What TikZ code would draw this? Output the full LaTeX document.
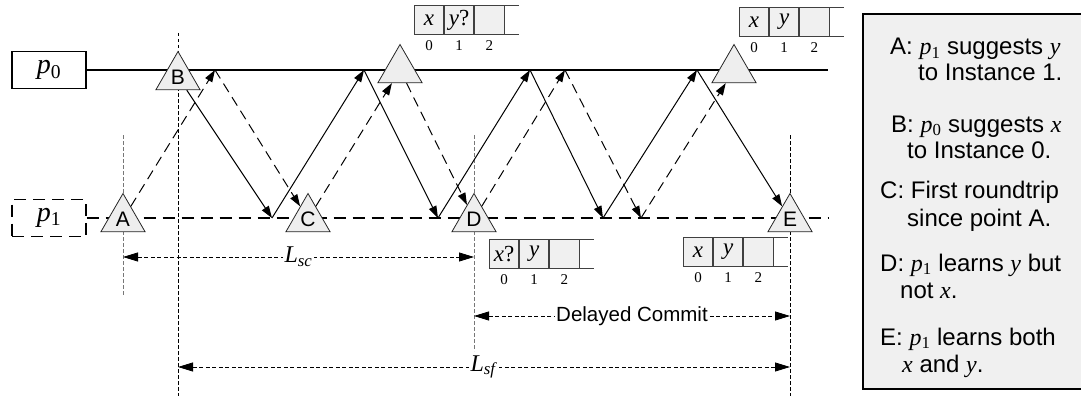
\documentclass[tikz,border=0pt]{standalone}
\usepackage{fontspec}
\setmainfont{Liberation Sans}
\newfontfamily\tms{Liberation Serif}
\usetikzlibrary{arrows.meta,shapes.geometric}

\definecolor{panelfill}{HTML}{F0F0F0}
\definecolor{trifill}{HTML}{EEEEEE}
\definecolor{guidegray}{HTML}{777777}

% italic variable and process name p_i
\newcommand\vr[1]{{\tms\itshape #1}}
\newcommand\pr[1]{{\tms\textit{p}\textsubscript{#1}}}

\tikzset{
  pbox/.style={draw, line width=1.1pt, minimum width=74pt, minimum height=37pt,
    inner sep=0pt, font=\fontsize{28}{28}\selectfont},
  procline/.style={line width=1.1pt},
  procdash/.style={line width=1.1pt, dash pattern=on 12pt off 7pt},
  guide/.style={line width=0.8pt, dash pattern=on 3.5pt off 2.5pt},
  tri/.style={shape=regular polygon, regular polygon sides=3, minimum size=51pt,
    inner sep=0pt, fill=trifill, draw=black!85, line width=0.8pt,
    font=\fontsize{21}{21}\selectfont},
  msg/.style={line width=1pt, -{Triangle[length=12pt,width=8pt]}},
  msgdash/.style={msg, dash pattern=on 10pt off 6pt},
  dim/.style={line width=0.8pt, dash pattern=on 4pt off 2.5pt,
    {Triangle[length=15pt,width=9pt]}-{Triangle[length=15pt,width=9pt]}},
  dimlabel/.style={fill=white, inner sep=1.5pt},
  cell/.style={draw=black!75, fill=panelfill, line width=0.8pt, minimum width=29.3pt,
    minimum height=29pt, inner sep=0pt, font=\tms\fontsize{23}{23}\selectfont},
  slotedge/.style={draw=black!75, line width=0.8pt},
  idx/.style={inner sep=0pt, font=\tms\fontsize{15}{15}\selectfont},
  legendtext/.style={anchor=base west, inner sep=0pt, font=\fontsize{24}{28}\selectfont},
}

% a row of three log slots (0,1,2) with an open tail
\newcommand\slots[5]{%
  \node[cell, anchor=north west] (#1-0) at (#2,#3) {#4};
  \node[cell, anchor=west] (#1-1) at (#1-0.east) {#5};
  \node[cell, anchor=west] (#1-2) at (#1-1.east) {};
  \draw[slotedge] (#1-2.north east) -- ++(15,0);
  \draw[slotedge] (#1-2.south east) -- ++(15,0);
  \foreach \i in {0,1,2} \path (#1-\i.south) ++(0,11) node[idx] {\i};
}

\begin{document}
\begin{tikzpicture}[x=1pt, y=-1pt]
\useasboundingbox (0,0) rectangle (1081,404);
\clip (0,0) rectangle (1081,404);

% legend panel
\path[draw, fill=panelfill, line width=1.1pt] (863,14) rectangle (1095,389);
\node[legendtext] (la) at (890,55) {A: \pr{1} suggests \vr{y}};
\node[legendtext] (la2) at (918,81) {to Instance 1.};
\node[legendtext] (lb) at (891,132) {B: \pr{0} suggests \vr{x}};
\node[legendtext] (lb2) at (907,158) {to Instance 0.};
\node[legendtext] (lc) at (880,198) {C: First roundtrip};
\node[legendtext] (lc2) at (907,226) {since point A.};
\node[legendtext] (ld) at (880,271) {D: \pr{1} learns \vr{y} but};
\node[legendtext] (ld2) at (900,298) {not \vr{x}.};
\node[legendtext] (le) at (880,345) {E: \pr{1} learns both};
\node[legendtext] (le2) at (902,372) {\vr{x} and \vr{y}.};

% processes
\node[pbox] (p0) at (49,70) {\pr{0}};
\node[pbox, dash pattern=on 12pt off 7pt] (p1) at (49,218) {\pr{1}};
\coordinate (p0end) at (828,70);
\coordinate (p1end) at (828,218);
\draw[procline] (p0) -- (p0end);
\draw[procdash] (p1) -- (p1end);

% time guides
\coordinate (gAt) at (123,135); \coordinate (gAb) at (123,296);
\coordinate (gBt) at (178,33);  \coordinate (gBb) at (178,396);
\coordinate (gDt) at (474,135); \coordinate (gDb) at (474,351);
\coordinate (gEt) at (790,135); \coordinate (gEb) at (790,396);
\draw[guide, guidegray] (gAt) -- (gAb);
\draw[guide] (gBt) -- (gBb);
\draw[guide, guidegray] (gDt) -- (gDb);
\draw[guide] (gEt) -- (gEb);

% events
\node[tri] (A) at (123,219) {A};
\node[tri] (B) at (178,77) {B};
\node[tri] (C) at (308,219) {C};
\node[tri] (D) at (474,219) {D};
\node[tri] (E) at (790,219) {E};
\node[tri] (T1) at (400,70) {};
\node[tri] (T2) at (734,70) {};

% message turning points
\coordinate (s1) at (272,218);
\coordinate (s2) at (364,70);
\coordinate (s3) at (438,218);
\coordinate (s4) at (530,70);
\coordinate (s5) at (603,218);
\coordinate (s6) at (697,70);
\coordinate (d1) at (215,70);
\coordinate (d5) at (565,70);
\coordinate (d6) at (641,218);

% p0's messages
\draw[msg] (B) -- (s1);
\draw[msg] (s1) -- (s2);
\draw[msg] (s2) -- (s3);
\draw[msg] (s3) -- (s4);
\draw[msg] (s4) -- (s5);
\draw[msg] (s5) -- (s6);
\draw[msg] (s6) -- (E);

% p1's messages
\draw[msgdash] (A) -- (d1);
\draw[msgdash] (d1) -- (C);
\draw[msgdash] (C) -- (T1);
\draw[msgdash] (T1) -- (D);
\draw[msgdash] (D) -- (d5);
\draw[msgdash] (d5) -- (d6);
\draw[msgdash] (d6) -- (T2);

% logs
\slots{lgA}{414}{5}{\vr{x}}{\vr{y}?}
\slots{lgB}{739}{7}{\vr{x}}{\vr{y}}
\slots{lgC}{489}{239}{\vr{x}?}{\vr{y}}
\slots{lgD}{683}{237}{\vr{x}}{\vr{y}}

% intervals
\coordinate (scL) at (123,257); \coordinate (scR) at (474,257);
\coordinate (dcL) at (474,316); \coordinate (dcR) at (790,316);
\coordinate (sfL) at (178,367); \coordinate (sfR) at (790,367);
\draw[dim] (scL) -- node[dimlabel, font=\tms\fontsize{24}{24}\selectfont]
  {\textit{L}\textsubscript{\textit{sc}}} (scR);
\draw[dim] (dcL) -- node[dimlabel, font=\fontsize{20.5}{20.5}\selectfont]
  {Delayed Commit} (dcR);
\draw[dim] (sfL) -- node[dimlabel, font=\tms\fontsize{24}{24}\selectfont]
  {\textit{L}\textsubscript{\textit{sf}}} (sfR);
\end{tikzpicture}
\end{document}
